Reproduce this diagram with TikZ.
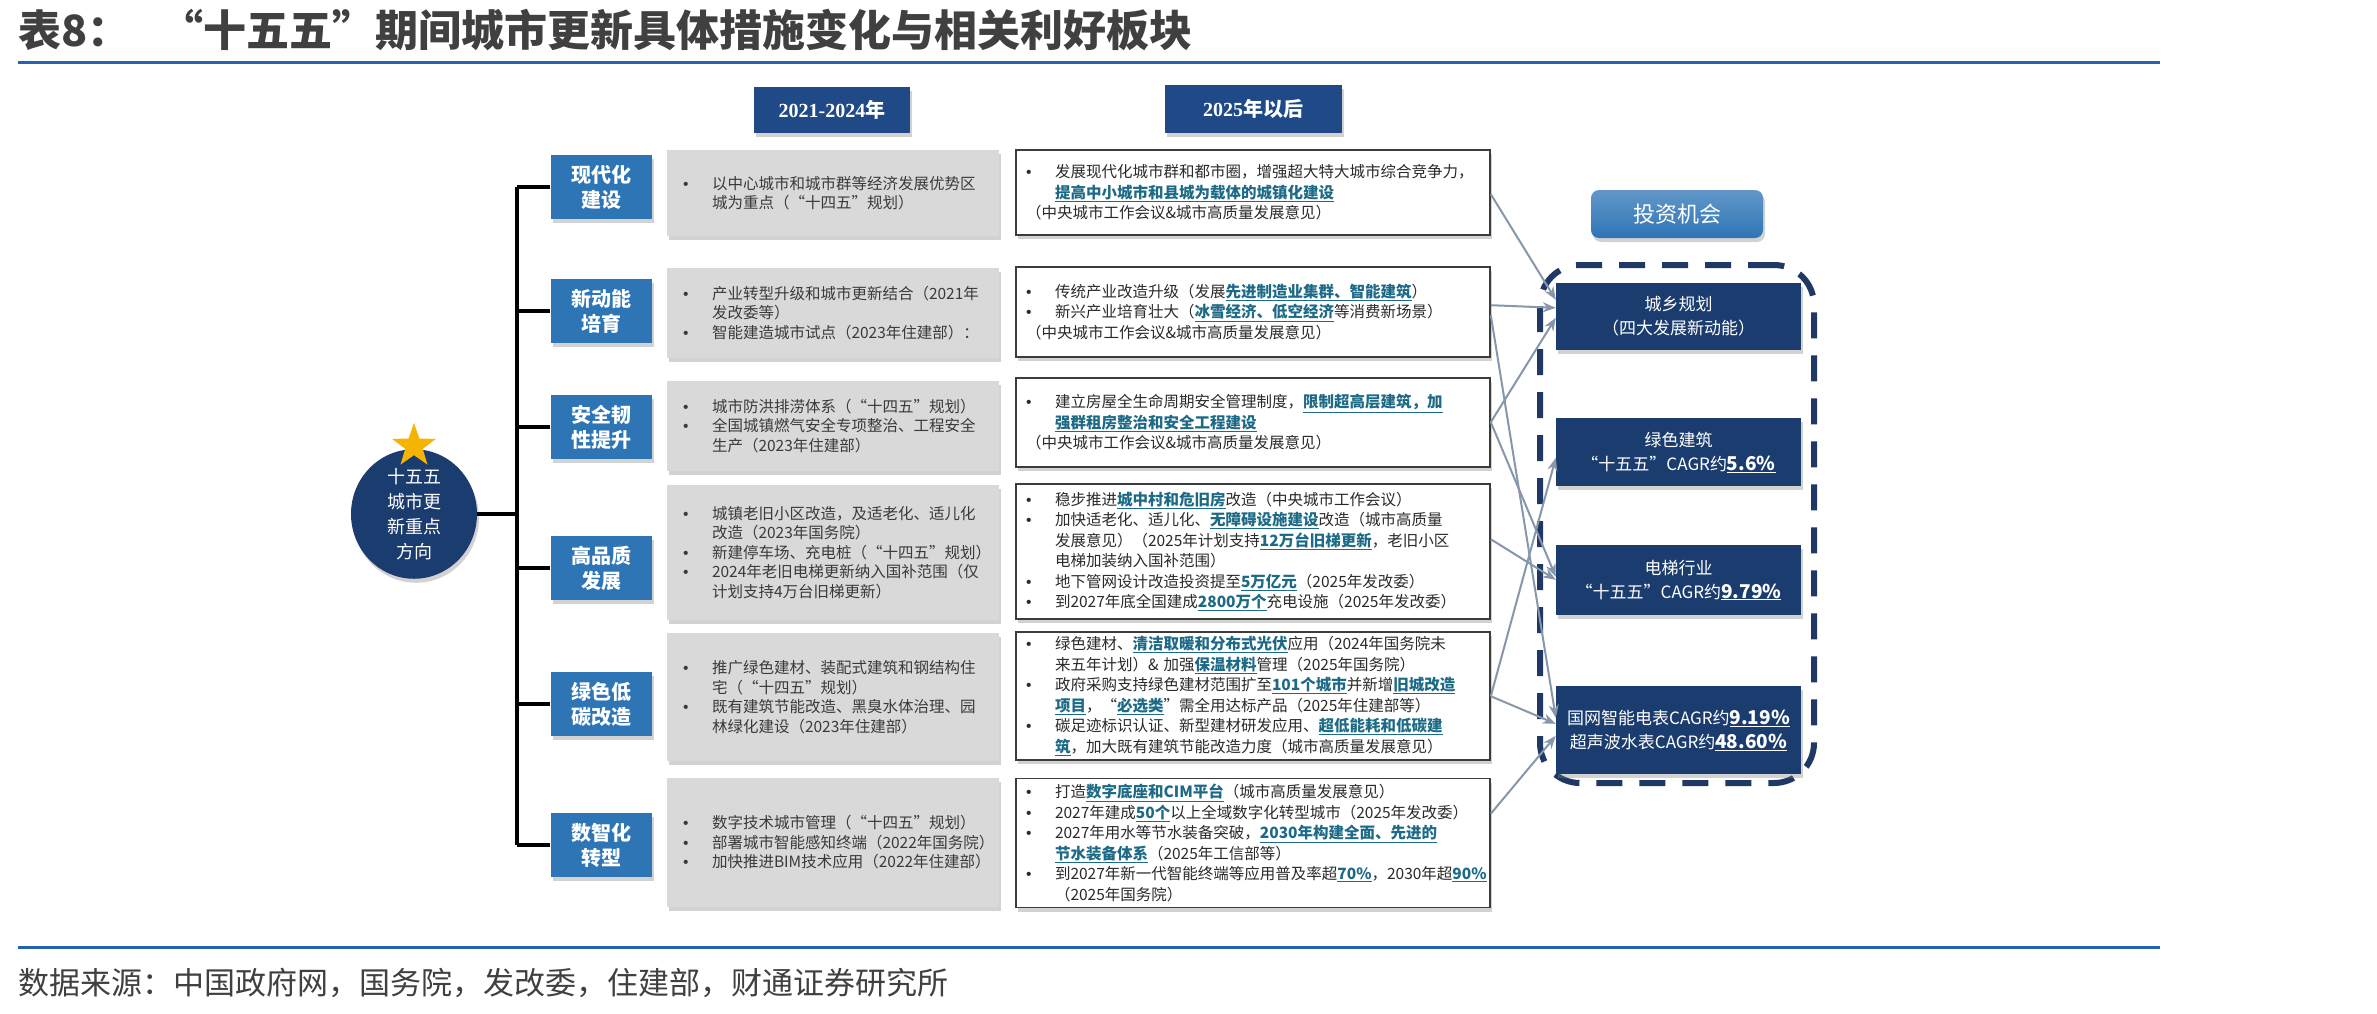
\documentclass[tikz,border=0pt]{standalone}
\usepackage{fontspec}
\setmainfont{Noto Sans CJK SC}
\newfontfamily\tms{Liberation Serif}
\newfontfamily\lsans{Liberation Sans}
\usetikzlibrary{shapes.geometric,shadows,arrows.meta,calc}
\definecolor{navy}{HTML}{1B3C6E}
\definecolor{hdrblue}{HTML}{1F4A87}
\definecolor{catblue}{HTML}{2E75B6}
\definecolor{boxgray}{HTML}{D9D9D9}
\definecolor{txtgray}{HTML}{3A3A3A}
\definecolor{txtdark}{HTML}{2A2A2A}
\definecolor{bordergray}{HTML}{3C3C3C}
\definecolor{hlc}{HTML}{1D6A86}
\definecolor{titlegray}{HTML}{404040}
\definecolor{ruleblue}{HTML}{2563B0}
\definecolor{gold}{HTML}{F5B400}
\definecolor{arrowgray}{HTML}{8797AB}
\definecolor{dashnavy}{HTML}{1F3864}
\newcommand\bu{\makebox[29pt][l]{\lsans •}}
\newcommand\ii{\hspace*{29pt}}
\newcommand\hl[1]{\textcolor{hlc}{\bfseries\underline{#1}}}
\newcommand\pct[1]{\underline{\bfseries\fontsize{19}{22}\selectfont #1}}
\tikzset{
  shad/.style={drop shadow={shadow xshift=2pt,shadow yshift=-4pt,opacity=.35}},
  hdr/.style={fill=hdrblue, text=white, font=\bfseries\fontsize{20}{24}\selectfont, inner sep=0pt, shad},
  catbox/.style={fill=catblue, text=white, font=\bfseries\fontsize{20}{25}\selectfont, minimum width=101pt, minimum height=64pt, inner sep=0pt, align=center, shad},
  graybox/.style={fill=boxgray, text=txtgray, font=\fontsize{15.5}{19.5}\selectfont, text width=300pt, inner xsep=16pt, inner ysep=0pt, align=left, shad},
  whitebox/.style={draw=bordergray, line width=1.6pt, fill=white, text=txtdark, font=\fontsize{15.5}{20.5}\selectfont, text width=454pt, inner xsep=10pt, inner ysep=0pt, align=left, shad},
  invbox/.style={fill=navy, text=white, font=\fontsize{17}{24}\selectfont, minimum width=245pt, inner sep=0pt, align=center, shad},
  trunk/.style={line width=3.5pt, black},
  link/.style={line width=2pt, arrowgray, -{Stealth[length=13pt,width=10pt]}}
}
\begin{document}
\begin{tikzpicture}[x=1pt,y=-1pt]
\fill[white] (0,0) rectangle (2377,1013);
\useasboundingbox (0,0) rectangle (2377,1013);

% title and rules
\node[anchor=west, inner sep=0pt, text=titlegray, font=\bfseries\fontsize{43}{50}\selectfont] (title) at (18,30) {表8：\hspace{30pt}“十五五”期间城市更新具体措施变化与相关利好板块};
\draw[line width=3pt, ruleblue] (18,62) -- (2160,62);
\draw[line width=3pt, ruleblue] (18,947) -- (2160,947);
\node[anchor=west, inner sep=0pt, text=titlegray, font=\fontsize{31}{36}\selectfont] (src) at (18,983) {数据来源：中国政府网，国务院，发改委，住建部，财通证券研究所};

% column headers
\node[hdr, minimum width=156pt, minimum height=46pt] (h1) at (832,110) {{\tms\bfseries 2021-2024}年};
\node[hdr, minimum width=177pt, minimum height=48pt] (h2) at (1253,109) {{\tms\bfseries 2025}年以后};

% centre ellipse and star
\node[ellipse, fill=navy, text=white, minimum width=126pt, minimum height=118pt, inner sep=0pt, align=center, font=\fontsize{18}{25}\selectfont, shad] (el) at (414,514) {十五五\\城市更\\新重点\\方向};
\node[star, star points=5, star point ratio=2.5, fill=gold, minimum size=46pt, inner sep=0pt] (st) at (414,446) {};

% category boxes
\node[catbox] (c1) at (601,187) {现代化\\建设};
\node[catbox] (c2) at (601,311) {新动能\\培育};
\node[catbox] (c3) at (601,427) {安全韧\\性提升};
\node[catbox] (c4) at (601,568) {高品质\\发展};
\node[catbox] (c5) at (601,704) {绿色低\\碳改造};
\node[catbox] (c6) at (601,845) {数智化\\转型};

\coordinate (tt) at (517,187);
\draw[trunk] (tt |- c1.west) -- (tt |- c6.west);
\draw[trunk] (el.east) -- (el.east -| tt);
\foreach \c in {c1,c2,c3,c4,c5,c6} {\draw[trunk] (\c.west) -- (\c.west -| tt);}

% 2021-2024 boxes
\node[graybox, minimum height=86pt] (g1) at (833,193) {\bu 以中心城市和城市群等经济发展优势区\\ \ii 城为重点（“十四五”规划）};
\node[graybox, minimum height=90pt] (g2) at (833,313) {\bu 产业转型升级和城市更新结合（2021年\\ \ii 发改委等）\\ \bu 智能建造城市试点（2023年住建部）：};
\node[graybox, minimum height=90pt] (g3) at (833,426) {\bu 城市防洪排涝体系（“十四五”规划）\\ \bu 全国城镇燃气安全专项整治、工程安全\\ \ii 生产（2023年住建部）};
\node[graybox, minimum height=135pt] (g4) at (833,552.5) {\bu 城镇老旧小区改造，及适老化、适儿化\\ \ii 改造（2023年国务院）\\ \bu 新建停车场、充电桩（“十四五”规划）\\ \bu 2024年老旧电梯更新纳入国补范围（仅\\ \ii 计划支持4万台旧梯更新）};
\node[graybox, minimum height=128pt] (g5) at (833,697) {\bu 推广绿色建材、装配式建筑和钢结构住\\ \ii 宅（“十四五”规划）\\ \bu 既有建筑节能改造、黑臭水体治理、园\\ \ii 林绿化建设（2023年住建部）};
\node[graybox, minimum height=129pt] (g6) at (833,842.5) {\bu 数字技术城市管理（“十四五”规划）\\ \bu 部署城市智能感知终端（2022年国务院）\\ \bu 加快推进BIM技术应用（2022年住建部）};

% 2025+ boxes
\node[whitebox, minimum height=85pt] (w1) at (1253,192.5) {\bu 发展现代化城市群和都市圈，增强超大特大城市综合竞争力，\\ \ii \hl{提高中小城市和县城为载体的城镇化建设}\\ （中央城市工作会议\&城市高质量发展意见）};
\node[whitebox, minimum height=90pt] (w2) at (1253,312) {\bu 传统产业改造升级（发展\hl{先进制造业集群、智能建筑}）\\ \bu 新兴产业培育壮大（\hl{冰雪经济、低空经济}等消费新场景）\\ （中央城市工作会议\&城市高质量发展意见）};
\node[whitebox, minimum height=89pt] (w3) at (1253,422.5) {\bu 建立房屋全生命周期安全管理制度，\hl{限制超高层建筑，加}\\ \ii \hl{强群租房整治和安全工程建设}\\ （中央城市工作会议\&城市高质量发展意见）};
\node[whitebox, minimum height=135pt] (w4) at (1253,551.5) {\bu 稳步推进\hl{城中村和危旧房}改造（中央城市工作会议）\\ \bu 加快适老化、适儿化、\hl{无障碍设施建设}改造（城市高质量\\ \ii 发展意见）（2025年计划支持\hl{12万台旧梯更新}，老旧小区\\ \ii 电梯加装纳入国补范围）\\ \bu 地下管网设计改造投资提至\hl{5万亿元}（2025年发改委）\\ \bu 到2027年底全国建成\hl{2800万个}充电设施（2025年发改委）};
\node[whitebox, minimum height=128pt] (w5) at (1253,696) {\bu 绿色建材、\hl{清洁取暖和分布式光伏}应用（2024年国务院未\\ \ii 来五年计划）\&~加强\hl{保温材料}管理（2025年国务院）\\ \bu 政府采购支持绿色建材范围扩至\hl{101个城市}并新增\hl{旧城改造}\\ \ii \hl{项目}，“\hl{必选类}”需全用达标产品（2025年住建部等）\\ \bu 碳足迹标识认证、新型建材研发应用、\hl{超低能耗和低碳建}\\ \ii \hl{筑}，加大既有建筑节能改造力度（城市高质量发展意见）};
\node[whitebox, minimum height=129pt] (w6) at (1253,843) {\bu 打造\hl{数字底座和CIM平台}（城市高质量发展意见）\\ \bu 2027年建成\hl{50个}以上全域数字化转型城市（2025年发改委）\\ \bu 2027年用水等节水装备突破，\hl{2030年构建全面、先进的}\\ \ii \hl{节水装备体系}（2025年工信部等）\\ \bu 到2027年新一代智能终端等应用普及率超\hl{70\%}，2030年超\hl{90\%}\\ \ii （2025年国务院）};

% investment column
\node[rounded corners=8pt, top color=catblue!75!white, bottom color=catblue, text=white, minimum width=172pt, minimum height=48pt, inner sep=0pt, font=\fontsize{22}{26}\selectfont, shad] (inv) at (1677,214) {投资机会};
\node[draw=dashnavy, line width=6pt, dash pattern=on 26pt off 17pt, rounded corners=40pt, minimum width=274pt, minimum height=518pt, inner sep=0pt] (frame) at (1677,524) {};
\node[invbox, minimum height=67pt] (i1) at (1678.5,316.5) {城乡规划\\（四大发展新动能）};
\node[invbox, minimum height=68pt] (i2) at (1678.5,452) {绿色建筑\\“十五五”CAGR约\pct{5.6\%}};
\node[invbox, minimum height=70pt] (i3) at (1678.5,580) {电梯行业\\“十五五”CAGR约\pct{9.79\%}};
\node[invbox, minimum height=88pt] (i4) at (1678.5,730) {国网智能电表CAGR约\pct{9.19\%}\\超声波水表CAGR约\pct{48.60\%}};

% links
\draw[link] ($(w1.north east)+(0,45)$) -- ($(i1.north west)+(0,17)$);
\draw[link] ($(w2.north east)+(0,39)$) -- ($(i1.north west)+(0,25)$);
\draw[link] ($(w2.north east)+(0,49)$) -- ($(i4.north west)+(0,32)$);
\draw[link] ($(w3.north east)+(0,45)$) -- ($(i1.north west)+(0,35)$);
\draw[link] ($(w3.north east)+(0,45)$) -- ($(i3.north west)+(0,32)$);
\draw[link] ($(w4.north east)+(0,56)$) -- ($(i3.north west)+(0,35)$);
\draw[link] ($(w5.north east)+(0,65)$) -- ($(i2.north west)+(0,40)$);
\draw[link] ($(w5.north east)+(0,65)$) -- ($(i4.north west)+(0,38)$);
\draw[link] ($(w6.north east)+(0,36)$) -- ($(i4.north west)+(0,50)$);
\end{tikzpicture}
\end{document}
